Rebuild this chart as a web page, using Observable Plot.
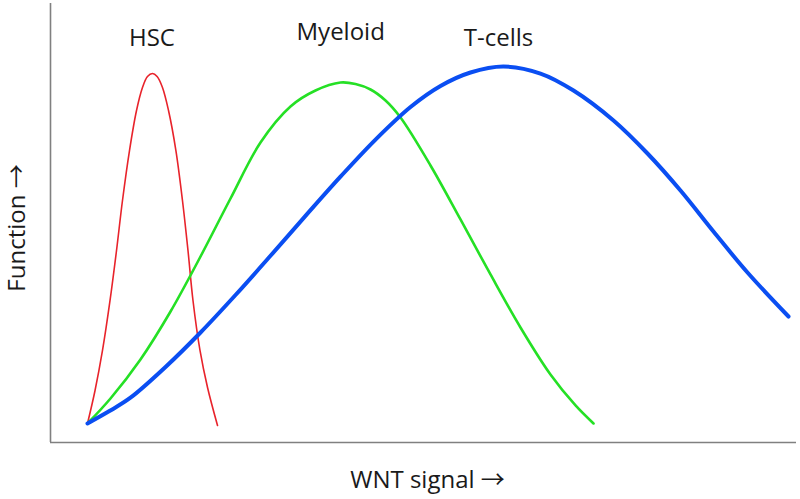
<!DOCTYPE html>
<html>
<head>
<meta charset="utf-8">
<script src="https://cdn.jsdelivr.net/npm/d3@7"></script>
<script src="https://cdn.jsdelivr.net/npm/@observablehq/plot@0.6"></script>
<style>
  html, body { margin: 0; padding: 0; background: #fff; }
  #chart { width: 800px; height: 499px; }
</style>
</head>
<body>
<div id="chart"></div>
<script>
// WNT signal (x) and Function (y), arbitrary 0–100 units
const hscX = [4.96, 5.97, 6.97, 7.98, 8.85, 9.65, 10.59, 11.53, 12.33, 13.00, 13.67, 14.29, 15.01, 15.82, 16.81, 17.69, 18.43, 19.10, 20.04, 21.05, 22.39];
const hscY = [4.33, 11.85, 20.96, 32.35, 43.74, 55.13, 66.51, 75.63, 80.87, 83.37, 84.05, 83.37, 80.87, 75.63, 66.51, 55.13, 43.74, 32.35, 20.96, 12.53, 3.87];

const myeloidX = [4.96, 8.04, 12.06, 16.09, 20.11, 24.13, 28.15, 32.17, 35.52, 38.87, 40.88, 42.90, 44.91, 46.92, 50.94, 54.96, 58.98, 63.00, 67.02, 70.38, 72.79];
const myeloidY = [4.33, 10.02, 18.91, 29.84, 42.37, 55.58, 68.34, 76.54, 80.18, 82.00, 81.66, 80.41, 77.90, 74.03, 63.10, 50.80, 38.27, 26.20, 15.49, 8.43, 4.33];

const tcellX = [4.96, 7.84, 10.72, 15.42, 20.11, 24.80, 29.49, 34.18, 38.87, 43.57, 48.26, 52.28, 56.30, 60.72, 65.68, 70.11, 75.47, 80.03, 84.45, 88.87, 93.43, 98.93];
const tcellY = [4.33, 7.10, 10.20, 17.20, 25.06, 33.60, 42.53, 51.62, 60.55, 69.00, 76.42, 81.21, 84.28, 85.65, 84.05, 80.18, 73.35, 65.83, 57.40, 48.06, 38.72, 28.70];

const seriesNames = ["HSC", "Myeloid", "T-cells"];
const labelX = [13.6, 38.9, 60.05];
const labelY = [90.4, 91.6, 90.4];

const xTitle = "WNT signal →";
const yTitle = "Function →";

const toRows = (name, xs, ys) => xs.map((x, i) => ({series: name, x, y: ys[i]}));
const hsc = toRows("HSC", hscX, hscY);
const myeloid = toRows("Myeloid", myeloidX, myeloidY);
const tcell = toRows("T-cells", tcellX, tcellY);
const labels = seriesNames.map((name, i) => ({name, x: labelX[i], y: labelY[i]}));

const chart = Plot.plot({
  width: 800,
  height: 499,
  marginLeft: 50,
  marginRight: 4,
  marginTop: 3,
  marginBottom: 57,
  x: {domain: [0, 100], axis: null},
  y: {domain: [0, 100], axis: null},
  style: {fontFamily: "'Open Sans', sans-serif", background: "#fff", color: "#1a1a1a"},
  marks: [
    Plot.ruleX([0], {stroke: "#808080", strokeWidth: 1.6}),
    Plot.ruleY([0], {stroke: "#808080", strokeWidth: 1.6}),
    Plot.line(hsc, {x: "x", y: "y", stroke: "#e8232b", strokeWidth: 1.6, curve: "catmull-rom"}),
    Plot.line(myeloid, {x: "x", y: "y", stroke: "#25e025", strokeWidth: 2.6, curve: "catmull-rom"}),
    Plot.line(tcell, {x: "x", y: "y", stroke: "#0a4ef2", strokeWidth: 4, curve: "catmull-rom"}),
    Plot.text(labels, {x: "x", y: "y", text: "name", textAnchor: "middle", lineAnchor: "bottom", fontSize: 24, fill: "#1a1a1a"}),
    Plot.text([xTitle], {frameAnchor: "bottom", textAnchor: "middle", lineAnchor: "bottom", dx: 4, dy: 45, fontSize: 24, fill: "#1a1a1a", className: "arrow-title"}),
    Plot.text([yTitle], {frameAnchor: "left", textAnchor: "middle", lineAnchor: "middle", rotate: -90, dx: -33, dy: 5, fontSize: 24, fill: "#1a1a1a", className: "arrow-title"})
  ]
});
// render the arrow glyph with a font that has a long arrow
d3.select(chart).selectAll(".arrow-title text").each(function () {
  const t = d3.select(this);
  const s = t.text();
  const i = s.indexOf("→");
  if (i >= 0) {
    t.text(s.slice(0, i));
    t.append("tspan").style("font-family", "'Noto Sans CJK JP', 'DejaVu Sans', sans-serif").text("→");
  }
});
document.getElementById("chart").appendChild(chart);
</script>
</body>
</html>
